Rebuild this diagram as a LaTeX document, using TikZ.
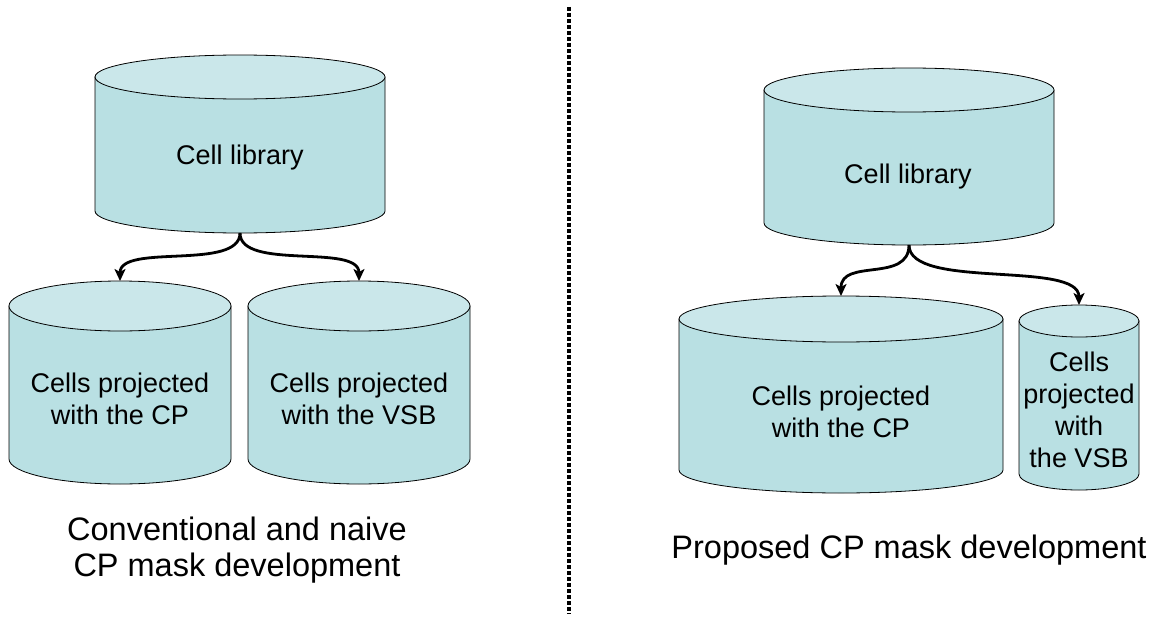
\documentclass[tikz,border=0pt]{standalone}
\usepackage{fontspec}
\setmainfont{Liberation Sans}
\usetikzlibrary{arrows.meta}

\definecolor{cylbody}{RGB}{185,224,227}
\definecolor{cyltopc}{RGB}{202,231,234}

% name, centre x, x radius, top centre y, bottom centre y, y radius
\newcommand{\dbcyl}[6]{%
  \draw[cylside] (#2-#3,#4) -- (#2-#3,#5) arc[start angle=180,end angle=0,x radius=#3,y radius=#6] -- (#2+#3,#4) -- cycle;
  \draw[cyltop] (#2,#4) ellipse[x radius=#3,y radius=#6];
  \coordinate (#1-top) at (#2,#4-#6);
  \coordinate (#1-bot) at (#2,#5+#6);
}

\begin{document}
\begin{tikzpicture}[x=1pt,y=-1pt,
  cylside/.style={draw=black,line width=0.8pt,fill=cylbody},
  cyltop/.style={draw=black,line width=0.8pt,fill=cyltopc},
  cyltext/.style={align=center,font=\fontsize{27}{32}\selectfont},
  caption/.style={align=center,font=\fontsize{32.5}{36}\selectfont},
  link/.style={line width=2.8pt,-{Stealth[length=12pt,width=11pt,inset=3pt]}},
  divider/.style={line width=4.5pt,dash pattern=on 4pt off 2pt}]
\useasboundingbox (0,0) rectangle (1164,618);

% Left: conventional
\dbcyl{libL}{240}{145}{77}{211}{22}
\node[cyltext] (libL) at (240,158) {Cell library};

\dbcyl{cpL}{120}{111}{306}{459}{25}
\node[cyltext] (cpLtext) at (120,399) {Cells projected\\with the CP};

\dbcyl{vsbL}{359}{111}{306}{459}{25}
\node[cyltext] (vsbLtext) at (359,399) {Cells projected\\with the VSB};

\draw[link] (libL-bot) .. controls +(0,38) and +(0,-38) .. (cpL-top);
\draw[link] (libL-bot) .. controls +(0,38) and +(0,-38) .. (vsbL-top);

\node[caption] (capL) at (237,550) {Conventional and naive\\CP mask development};

% Divider
\draw[divider] (569,7) -- (569,614);

% Right: proposed
\dbcyl{libR}{909}{145}{90}{223}{22}
\node[cyltext] (libR) at (908,177) {Cell library};

\dbcyl{cpR}{841}{162}{319}{470}{23}
\node[cyltext] (cpRtext) at (841,412) {Cells projected\\with the CP};

\dbcyl{vsbR}{1079}{60}{321}{474}{16}
\node[cyltext] (vsbRtext) at (1079,410) {Cells\\projected\\with\\the VSB};

\draw[link] (libR-bot) .. controls +(0,38) and +(0,-38) .. (cpR-top);
\draw[link] (libR-bot) .. controls +(0,45) and +(0,-45) .. (vsbR-top);

\node[caption] (capR) at (909,550) {Proposed CP mask development};
\end{tikzpicture}
\end{document}
